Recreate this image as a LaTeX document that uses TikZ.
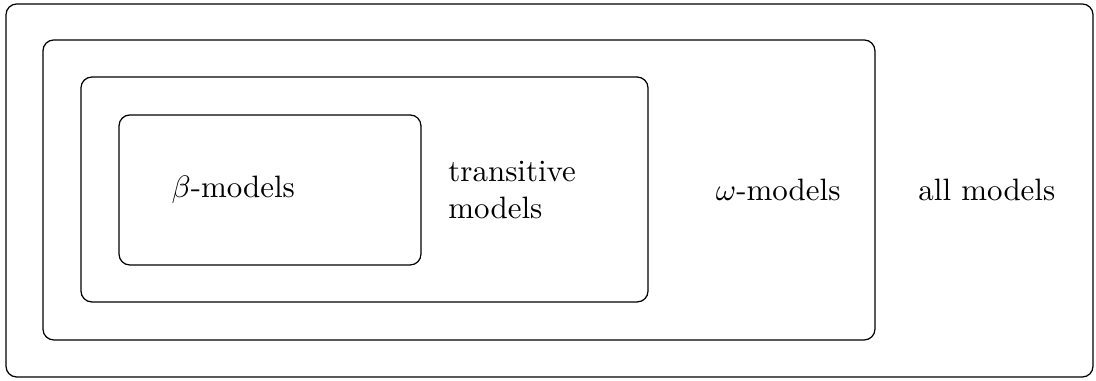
\documentclass[tikz,border=0pt]{standalone}
\usepackage{amssymb}
\usepackage{tikz}
\usetikzlibrary{positioning}

\begin{document}
\begin{tikzpicture}
        \useasboundingbox (0, 0) rectangle (12.45, 4.328);
        \draw[rounded corners=3.5pt] (0.068, 0.045) rectangle (12.416, 4.283);
        \draw[rounded corners=3.5pt] (0.488, 0.466) rectangle (9.939, 3.874);
        \draw[rounded corners=3.5pt] (0.920, 0.898) rectangle (7.361, 3.453);
        \draw[rounded corners=3.5pt] (1.352, 1.318) rectangle (4.782, 3.022);
        \node (beta) at (2.65, 2.17) {$\beta$-models};
        \node[anchor=west, align=left] (trans) at (4.97, 2.17) {transitive\\models};
        \node (omega) at (8.84, 2.17) {$\omega$-models};
        \node (all) at (11.21, 2.17) {all models};
    \end{tikzpicture}
\end{document}
